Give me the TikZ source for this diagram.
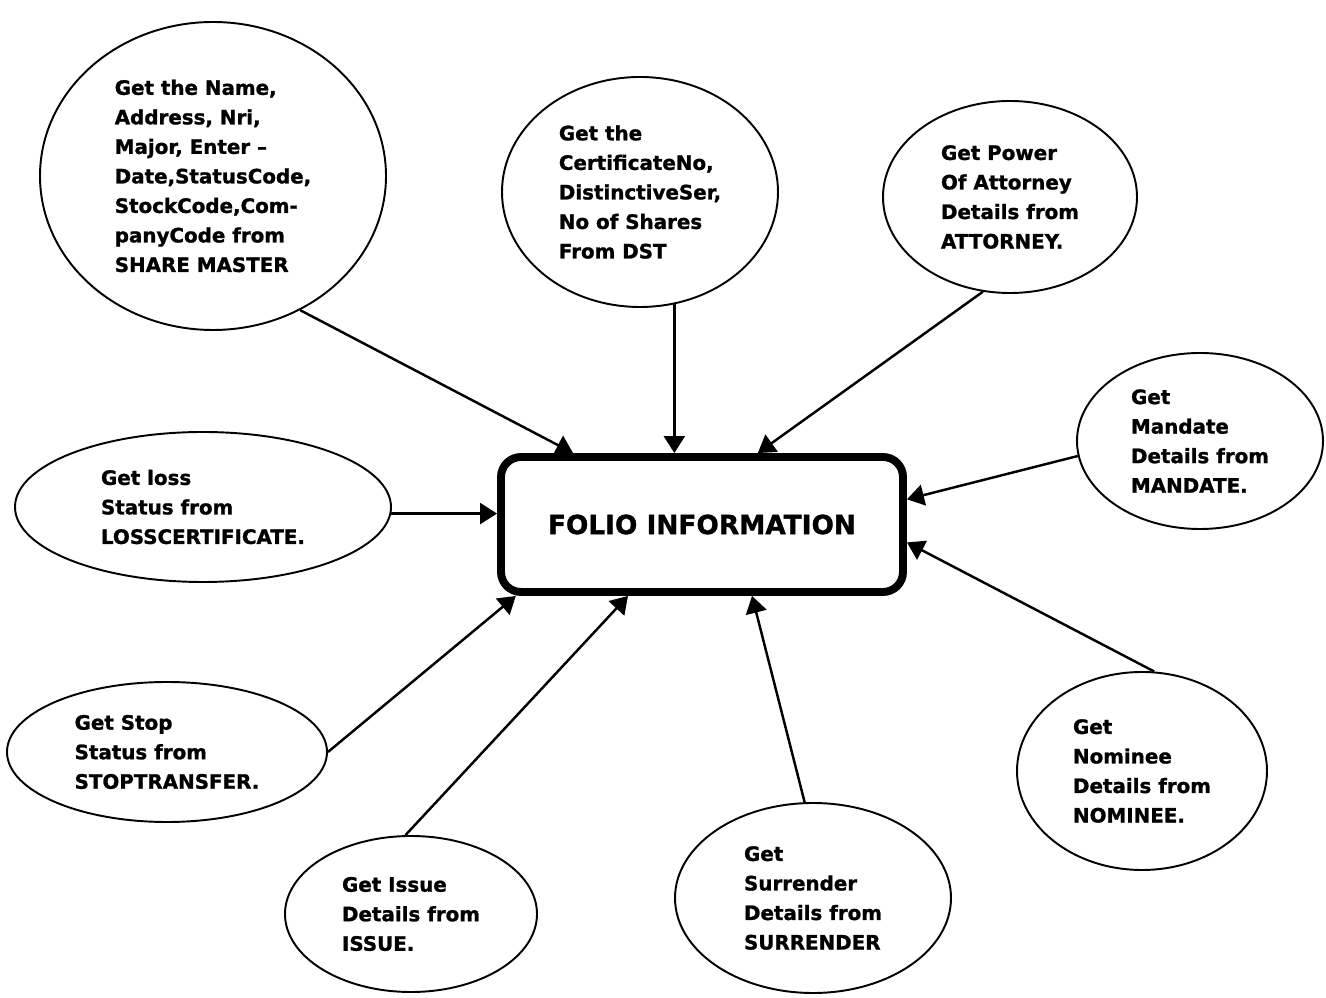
\documentclass[tikz,border=0pt]{standalone}
\usepackage{fontspec}
\setmainfont{DejaVu Sans}[BoldFeatures={FakeBold=1.2}]
\usetikzlibrary{shapes.geometric,arrows.meta}

\begin{document}
\begin{tikzpicture}[>={Triangle[length=3.4mm,width=4.2mm]}, line width=1.4pt,
        bubble/.style={ellipse, draw, line width=1.1pt, inner sep=0pt, align=left,
            font=\bfseries\fontsize{11.3}{16.8}\selectfont},
        folio/.style={rectangle, draw, rounded corners=4mm, line width=4.5pt,
            minimum width=8.04cm, minimum height=2.7cm,
            font=\bfseries\fontsize{15}{18}\selectfont}]

        \useasboundingbox (0,0) rectangle (26.52,19.94);

        \node[folio]  (folio)     at (14.04,9.45) {FOLIO INFORMATION};

        \node[bubble, minimum width=6.92cm, minimum height=6.16cm] (share)     at (4.26,16.42)
            {Get the Name,\\Address, Nri,\\Major, Enter --\\Date,StatusCode,\\StockCode,Com-\\panyCode from\\SHARE MASTER};
        \node[bubble, minimum width=5.52cm, minimum height=4.60cm] (cert)      at (12.80,16.10)
            {Get the\\CertificateNo,\\DistinctiveSer,\\No of Shares\\From DST};
        \node[bubble, minimum width=5.08cm, minimum height=3.84cm] (attorney)  at (20.20,16.00)
            {Get Power\\Of Attorney\\Details from\\ATTORNEY.};
        \node[bubble, minimum width=4.92cm, minimum height=3.52cm] (mandate)   at (24.00,11.12)
            {Get\\Mandate\\Details from\\MANDATE.};
        \node[bubble, minimum width=7.52cm, minimum height=3.00cm] (loss)      at (4.06,9.80)
            {Get loss\\Status from\\LOSSCERTIFICATE.};
        \node[bubble, minimum width=6.40cm, minimum height=2.80cm] (stop)      at (3.34,4.90)
            {Get Stop\\Status from\\STOPTRANSFER.};
        \node[bubble, minimum width=5.04cm, minimum height=3.12cm] (issue)     at (8.22,1.66)
            {Get Issue\\Details from\\ISSUE.};
        \node[bubble, minimum width=5.52cm, minimum height=3.80cm] (surrender) at (16.26,1.98)
            {Get\\Surrender\\Details from\\SURRENDER};
        \node[bubble, minimum width=5.00cm, minimum height=3.96cm] (nominee)   at (22.84,4.52)
            {Get\\Nominee\\Details from\\NOMINEE.};

        \path[->] (share.-57)     edge (folio.151)
              (cert.-73)      edge (cert.-73 |- folio.north)
              (attorney.254)  edge (folio.52)
              (mandate.187)   edge (folio.7)
              (loss.-2)       edge (loss.-2 -| folio.west)
              (stop.0)        edge (folio.201)
              (issue.94)      edge (folio.224)
              (surrender.95)  edge (folio.305)
              (nominee.83)    edge (folio.-5);

        \end{tikzpicture}
\end{document}
